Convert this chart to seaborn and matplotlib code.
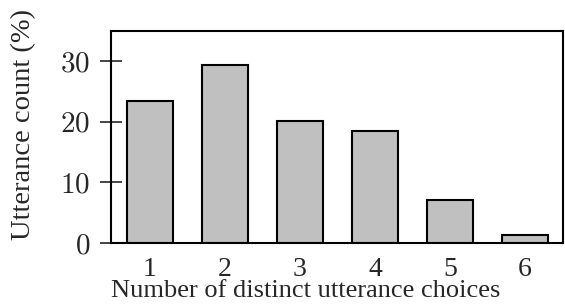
import matplotlib
matplotlib.use("Agg")
import matplotlib.pyplot as plt
import seaborn as sns
import pandas as pd

choices = ["1", "2", "3", "4", "5", "6"]
counts = [23.4, 29.4, 20.2, 18.5, 7.1, 1.3]
yticks = [0, 10, 20, 30]

sns.set_style("white")
plt.rcParams['font.family'] = ['Liberation Serif', 'DejaVu Serif']
plt.rcParams['mathtext.fontset'] = 'cm'

df = pd.DataFrame({"choice": choices, "count": counts})

fig = plt.figure(figsize=(5.65, 3.08), dpi=100)
ax = fig.add_axes([0.1965, 0.211, 0.80, 0.688])
sns.barplot(data=df, x="choice", y="count", color="#c0c0c0", saturation=1,
            edgecolor="black", linewidth=1.5, width=0.61, ax=ax)
ax.set_xlim(-0.52, 5.51)
ax.set_ylim(0, 35)
ax.set_yticks(yticks)
ax.set_yticklabels([f"${t}$" for t in yticks])
for s in ax.spines.values():
    s.set_visible(True)
    s.set_color("black")
    s.set_linewidth(1.5)
ax.tick_params(axis="y", direction="inout", length=16, width=1.2, labelsize=21, pad=7, left=True)
ax.tick_params(axis="x", length=0, labelsize=20, pad=10)
ax.set_xlabel("Number of distinct utterance choices", fontsize=19)
ax.set_ylabel("Utterance count (%)", fontsize=20.5)
ax.xaxis.set_label_coords(0.43, -0.1745)
ax.yaxis.set_label_coords(-0.166, 0.561)
fig.savefig("out.png", dpi=100)
